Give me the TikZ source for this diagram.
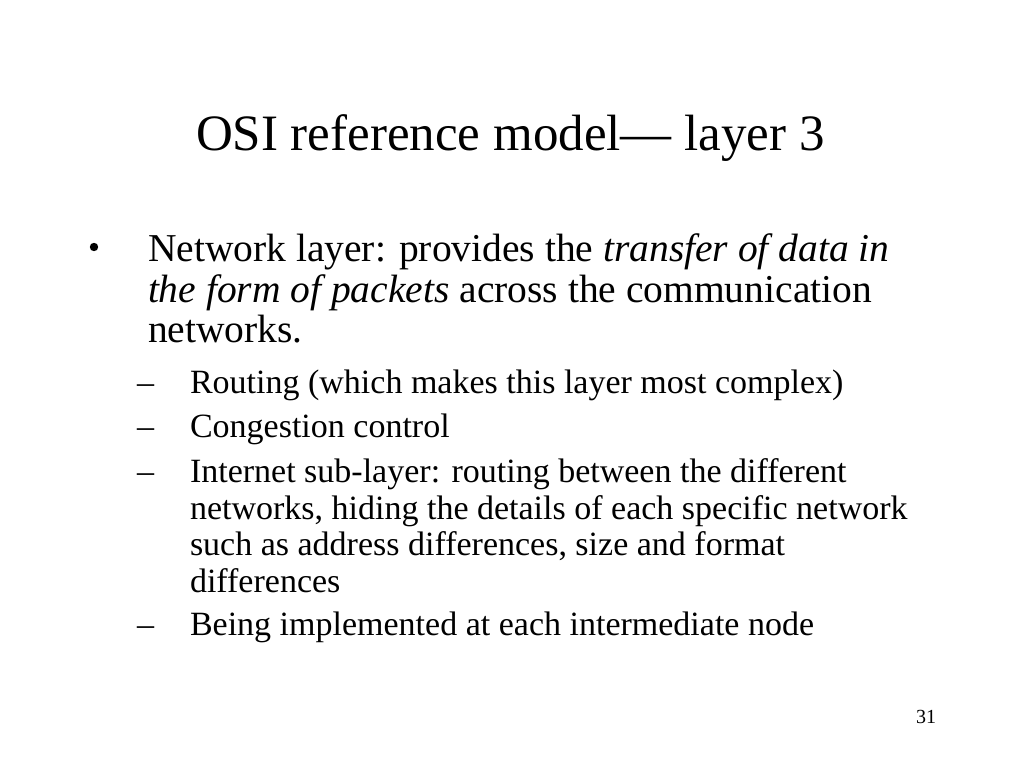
\documentclass[tikz,border=0pt]{standalone}
\usepackage{fontspec}
\setmainfont{Liberation Serif}
\begin{document}
\begin{tikzpicture}[x=1pt,y=-1pt,
  txt/.style={anchor=base west,inner sep=0pt,outer sep=0pt},
  titlefont/.style={font=\fontsize{51}{51}\selectfont},
  bodyfont/.style={font=\fontsize{39.5}{39.5}\selectfont},
  subfont/.style={font=\fontsize{34}{34}\selectfont},
  numfont/.style={font=\fontsize{20}{20}\selectfont}]
\useasboundingbox[fill=white] (0,0) rectangle (1024,768);
% title
\node[txt,titlefont] (title) at (196,150) {OSI reference model— layer 3};
% main bullet
\fill (94,247) circle (4.2);
\node[txt,bodyfont] (b1) at (148,261.5) {Network layer: provides the \textit{transfer of data in}};
\node[txt,bodyfont] (b2) at (148,302) {\textit{the form of packets} across the communication};
\node[txt,bodyfont] (b3) at (148,342) {networks.};
% sub bullets
\node[txt,subfont] (d1) at (137,393) {–};
\node[txt,subfont] (s1) at (190,393) {Routing (which makes this layer most complex)};
\node[txt,subfont] (d2) at (137,437.5) {–};
\node[txt,subfont] (s2) at (190,437.5) {Congestion control};
\node[txt,subfont] (d3) at (137,482.5) {–};
\node[txt,subfont] (s3a) at (190,482.5) {Internet sub-layer: routing between the different};
\node[txt,subfont] (s3b) at (190,519) {networks, hiding the details of each specific network};
\node[txt,subfont] (s3c) at (190,555.5) {such as address differences, size and format};
\node[txt,subfont] (s3d) at (190,592) {differences};
\node[txt,subfont] (d4) at (137,635.5) {–};
\node[txt,subfont] (s4) at (190,635.5) {Being implemented at each intermediate node};
% page number
\node[txt,numfont] (pg) at (916,723) {31};
\end{tikzpicture}
\end{document}
